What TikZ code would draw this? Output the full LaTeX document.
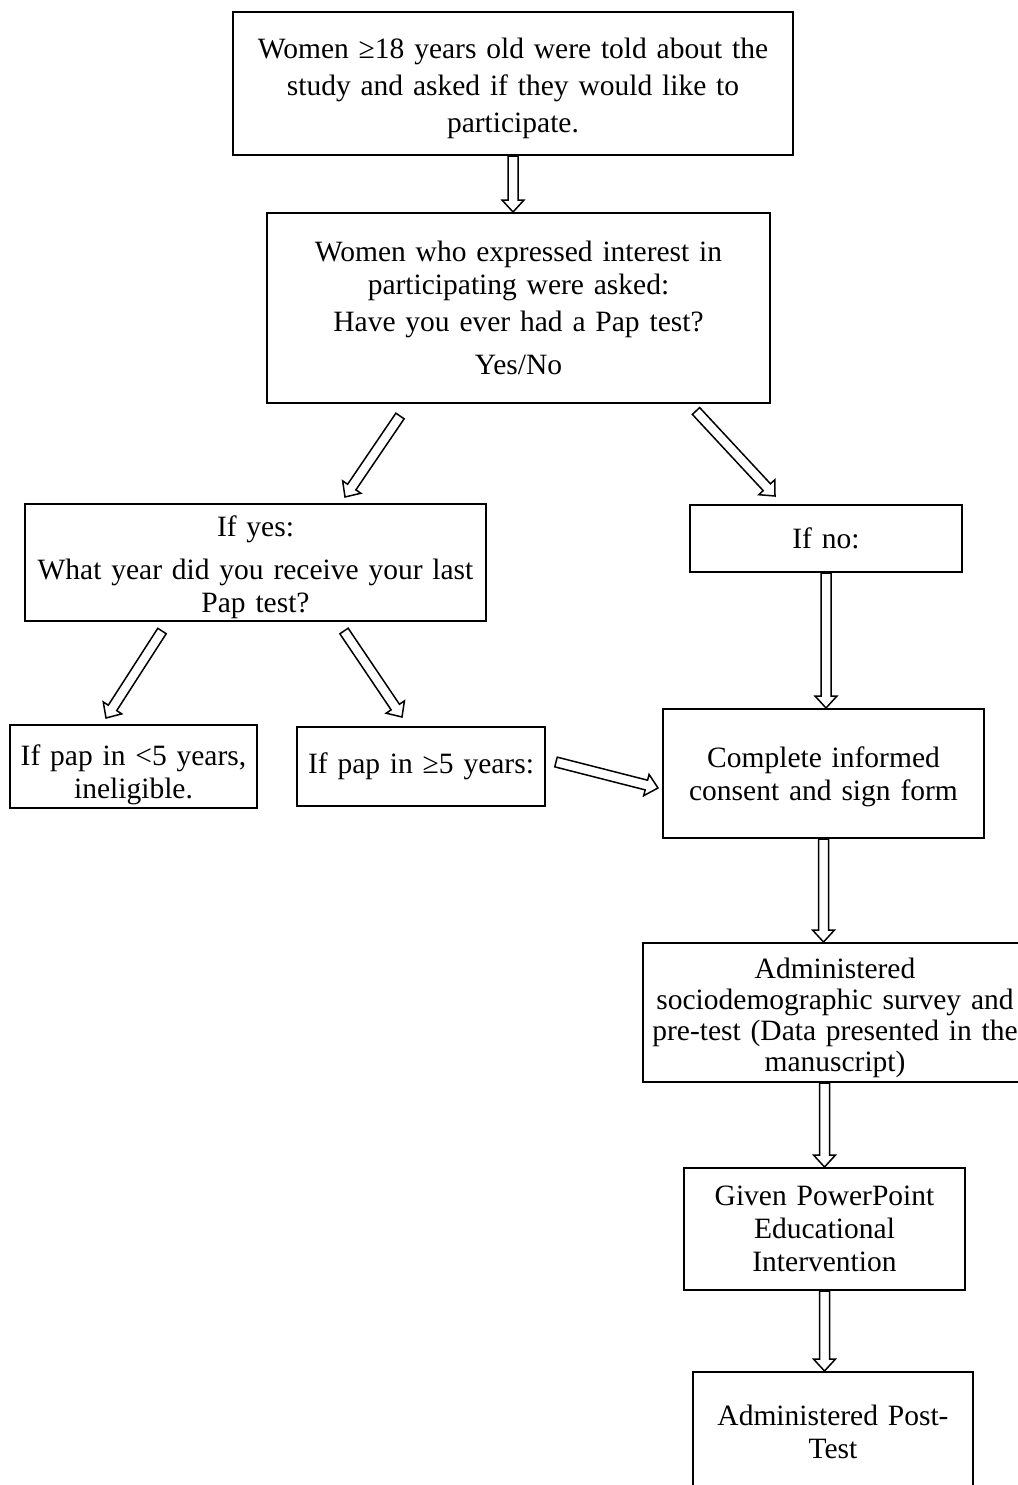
\documentclass[tikz,border=0pt]{standalone}
\usepackage{fontspec}
\setmainfont{Liberation Serif}
\usetikzlibrary{calc}
\tikzset{
  box/.style={draw, line width=2pt, inner sep=0pt},
  txt/.style={inner sep=0pt, align=center, font=\fontsize{29.5}{33}\selectfont},
  blockarr/.style={draw, line width=1.5pt, fill=white, line join=miter},
}
\newcommand\blockarrow[2]{%
  \path let \p1=($(#2)-(#1)$), \n1={atan2(\y1,\x1)}, \n2={veclen(\x1,\y1)} in
    \pgfextra{\xdef\baang{\n1}\xdef\balen{\n2}};
  \begin{scope}[shift={(#1)}, rotate=\baang]
    \draw[blockarr] (0,-5) -- (\balen-12,-5) -- (\balen-12,-11) -- (\balen,0)
      -- (\balen-12,11) -- (\balen-12,5) -- (0,5) -- cycle;
  \end{scope}}
\begin{document}
\begin{tikzpicture}[x=1pt,y=-1pt]
\useasboundingbox[fill=white] (0,0) rectangle (1017,1485);
% boxes
\node[box, minimum width=560pt, minimum height=143pt] (b1) at (513,83.5) {};
\node[box, minimum width=503pt, minimum height=190pt] (b2) at (518.5,308) {};
\node[box, minimum width=461pt, minimum height=117pt] (b3) at (255.5,562.5) {};
\node[box, minimum width=272pt, minimum height=67pt] (b4) at (826,538.5) {};
\node[box, minimum width=247pt, minimum height=83pt] (b5) at (133.5,766.5) {};
\node[box, minimum width=248pt, minimum height=79pt] (b6) at (421,766.5) {};
\node[box, minimum width=321pt, minimum height=129pt] (b7) at (823.5,773.5) {};
\node[box, minimum width=384pt, minimum height=139pt] (b8) at (835,1012.5) {};
\node[box, minimum width=281pt, minimum height=122pt] (b9) at (824.5,1229) {};
\node[box, minimum width=280pt, minimum height=120pt] (b10) at (833,1432) {};
% texts
\node[txt, text width=540pt] (t1) at ($(b1.center)+(0,5)$)
  {Women ≥18 years old were told about the\\[4pt] study and asked if they would like to\\[4pt] participate.};
\node[txt, text width=490pt] (t2) at (b2.center)
  {Women who expressed interest in\\ participating were asked:\\[4pt] Have you ever had a Pap test?\\[10pt] Yes/No};
\node[txt, text width=450pt] (t3) at ($(b3.center)+(0,5)$)
  {If yes:\\[10pt] What year did you receive your last\\ Pap test?};
\node[txt, text width=260pt] (t4) at (b4.center) {If no:};
\node[txt, text width=240pt] (t5) at ($(b5.center)+(0,8)$)
  {If pap in <5 years,\\ ineligible.};
\node[txt, text width=240pt] (t6) at (b6.center) {If pap in ≥5 years:};
\node[txt, text width=310pt] (t7) at ($(b7.center)+(0,3)$)
  {Complete informed\\ consent and sign form};
\node[txt, text width=384pt] (t8) at ($(b8.center)+(0,5)$)
  {Administered\\[-2pt] sociodemographic survey and\\[-2pt] pre-test (Data presented in the\\[-2pt] manuscript)};
\node[txt, text width=275pt] (t9) at (b9.center)
  {Given PowerPoint\\ Educational\\ Intervention};
\node[txt, text width=275pt] (t10) at (b10.center)
  {Administered Post-\\ Test};
% connector end points
\coordinate (a1s) at (b1.south);
\coordinate (a1e) at (b1.south |- b2.north);
\coordinate (a2s) at ($(b2.south west)+(134,12)$);
\coordinate (a2e) at ($(b3.north west)+(321,-6)$);
\coordinate (a3s) at ($(b2.south west)+(430,7)$);
\coordinate (a3e) at ($(b4.north west)+(86,-8)$);
\coordinate (a4s) at (b4.south);
\coordinate (a4e) at (b4.south |- b7.north);
\coordinate (a5s) at ($(b3.south west)+(138,9)$);
\coordinate (a5e) at ($(b5.north west)+(97,-6)$);
\coordinate (a6s) at ($(b3.south west)+(320,9)$);
\coordinate (a6e) at ($(b6.north west)+(106,-9)$);
\coordinate (a7s) at ($(b6.east)+(10,-4.5)$);
\coordinate (a7e) at ($(b7.west)+(-4,14.5)$);
\coordinate (a8s) at (b7.south);
\coordinate (a8e) at (b7.south |- b8.north);
\coordinate (a9s) at (b9.north |- b8.south);
\coordinate (a9e) at (b9.north);
\coordinate (a10s) at (b9.south);
\coordinate (a10e) at (b9.south |- b10.north);
\blockarrow{a1s}{a1e}
\blockarrow{a2s}{a2e}
\blockarrow{a3s}{a3e}
\blockarrow{a4s}{a4e}
\blockarrow{a5s}{a5e}
\blockarrow{a6s}{a6e}
\blockarrow{a7s}{a7e}
\blockarrow{a8s}{a8e}
\blockarrow{a9s}{a9e}
\blockarrow{a10s}{a10e}
\end{tikzpicture}
\end{document}
